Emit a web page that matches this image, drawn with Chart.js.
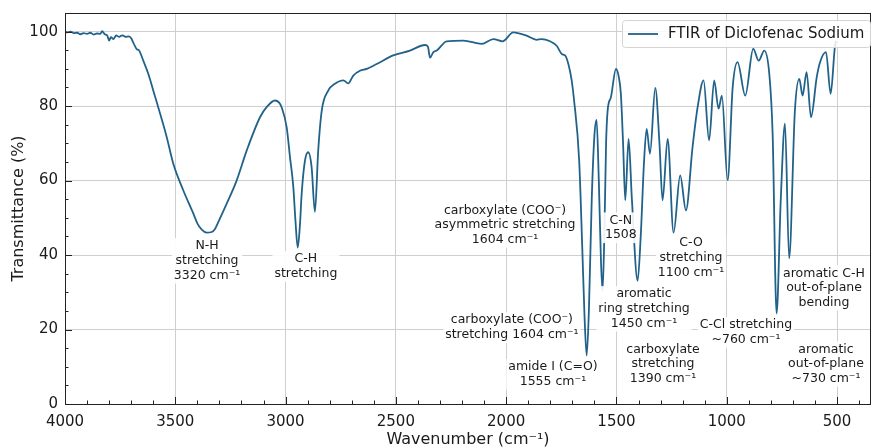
<!DOCTYPE html>
<html>
<head>
<meta charset="utf-8">
<script src="https://cdn.jsdelivr.net/npm/chart.js@4.4.1/dist/chart.umd.min.js"></script>
<style>
  html, body { margin: 0; padding: 0; background: #fff; }
</style>
</head>
<body>
<canvas id="ftirChart" width="872" height="448"></canvas>
<script>
// spectrum, high -> low wavenumber
const wavenumbers = [
  4000, 3990, 3975, 3960, 3945, 3930, 3915, 3900, 3885, 3870, 3855, 3840, 3832, 3820, 3808, 3800,
  3792, 3780, 3768, 3755, 3740, 3725, 3712, 3700, 3690, 3675, 3665, 3645, 3622, 3600, 3569, 3539,
  3509, 3464, 3418, 3400, 3380, 3358, 3335, 3320, 3300, 3267, 3222, 3176, 3116, 3086, 3048, 3030,
  3018, 2995, 2980, 2965, 2955, 2945, 2935, 2927, 2912, 2897, 2882, 2867, 2852, 2836, 2806, 2776,
  2738, 2716, 2693, 2663, 2632, 2587, 2512, 2436, 2368, 2355, 2345, 2330, 2315, 2270, 2194, 2111,
  2058, 2016, 1968, 1907, 1862, 1840, 1801, 1771, 1748, 1733, 1718, 1703, 1692, 1669, 1655, 1645,
  1635, 1625, 1612, 1600, 1590, 1580, 1570, 1563, 1555, 1547, 1540, 1525, 1502, 1490, 1480, 1470,
  1460, 1445, 1430, 1404, 1390, 1375, 1363, 1348, 1324, 1305, 1291, 1268, 1241, 1211, 1185, 1155,
  1132, 1105, 1080, 1057, 1037, 1022, 996, 973, 951, 916, 880, 855, 830, 807, 792, 774,
  755, 736, 717, 691, 671, 656, 638, 618, 592, 577, 550, 529, 510, 505
];
const transmittance = [
  100.0, 99.8, 100.0, 99.6, 99.7, 99.3, 99.6, 99.4, 99.7, 99.2, 99.5, 99.4, 100.1, 99.3, 98.9, 97.6,
  98.5, 98.0, 99.0, 98.6, 99.0, 98.6, 98.7, 98.2, 97.0, 95.3, 95.0, 92.2, 88.6, 84.2, 78.0, 71.7,
  64.5, 57.4, 51.1, 48.5, 46.8, 46.0, 46.2, 47.0, 49.5, 53.8, 60.0, 68.1, 77.0, 79.7, 81.5, 81.0,
  79.7, 74.3, 66.3, 58.3, 49.0, 42.0, 48.0, 56.5, 65.4, 67.6, 63.6, 51.6, 68.1, 78.8, 84.2, 86.0,
  86.9, 86.1, 88.2, 89.5, 90.0, 91.3, 93.6, 94.9, 96.4, 96.0, 93.0, 94.5, 94.9, 97.4, 97.6, 96.7,
  98.0, 97.4, 99.8, 98.9, 97.8, 98.0, 97.4, 96.2, 94.0, 93.6, 91.3, 86.9, 81.5, 65.4, 42.0, 24.0,
  13.0, 25.0, 55.0, 72.0, 76.3, 60.0, 38.0, 30.4, 45.0, 70.0, 78.8, 82.4, 90.0, 88.0, 83.3, 70.0,
  54.7, 71.2, 55.0, 33.1, 45.0, 65.0, 73.9, 67.2, 84.9, 70.0, 54.7, 71.2, 46.0, 61.4, 52.0, 69.0,
  79.7, 86.9, 70.8, 86.9, 79.3, 82.8, 60.1, 85.1, 91.8, 82.8, 95.4, 92.2, 94.9, 88.6, 72.6, 24.3,
  55.0, 75.3, 39.1, 78.8, 87.3, 82.8, 89.1, 77.0, 87.8, 91.8, 94.5, 83.3, 95.8, 97.5
];
const xTicks = [4000, 3500, 3000, 2500, 2000, 1500, 1000, 500];
const yTicks = [0, 20, 40, 60, 80, 100];
const seriesLabel = 'FTIR of Diclofenac Sodium';

// band labels: anchor (wavenumber, transmittance of first line)
const bandLabels = [
  { wn: 3356, t: 42.4, lines: ['N-H', 'stretching', '3320 cm⁻¹'] },
  { wn: 2908, t: 38.9, lines: ['C-H', 'stretching'] },
  { wn: 2005, t: 52.0, lines: ['carboxylate (COO⁻)', 'asymmetric stretching', '1604 cm⁻¹'] },
  { wn: 1480, t: 49.3, lines: ['C-N', '1508'] },
  { wn: 1162, t: 43.2, lines: ['C-O', 'stretching', '1100 cm⁻¹'] },
  { wn: 1375, t: 29.5, lines: ['aromatic', 'ring stretching', '1450 cm⁻¹'] },
  { wn: 1974, t: 22.5, lines: ['carboxylate (COO⁻)', 'stretching 1604 cm⁻¹'] },
  { wn: 1788, t: 9.9, lines: ['amide I (C=O)', '1555 cm⁻¹'] },
  { wn: 1289, t: 14.7, lines: ['carboxylate', 'stretching', '1390 cm⁻¹'] },
  { wn: 913, t: 21.2, lines: ['C-Cl stretching', '~760 cm⁻¹'] },
  { wn: 559, t: 35.1, lines: ['aromatic C-H', 'out-of-plane', 'bending'] },
  { wn: 550, t: 14.7, lines: ['aromatic', 'out-of-plane', '~730 cm⁻¹'] }
];

const lineColor = '#21628a';
const fontFamily = '"DejaVu Sans", "Liberation Sans", sans-serif';

const points = wavenumbers.map(function (w, i) { return { x: w, y: transmittance[i] }; });

const decorPlugin = {
  id: 'decor',
  afterDatasetsDraw: function (chart) {
    const c = chart.ctx;
    const xs = chart.scales.x;
    const ys = chart.scales.y;
    const area = chart.chartArea;

    // band labels with white boxes
    c.save();
    c.font = '12.5px ' + fontFamily;
    c.textAlign = 'center';
    c.textBaseline = 'middle';
    const lh = 14.7;
    bandLabels.forEach(function (lab) {
      const cx = xs.getPixelForValue(lab.wn);
      const cy = ys.getPixelForValue(lab.t);
      let w = 0;
      lab.lines.forEach(function (s) { w = Math.max(w, c.measureText(s).width); });
      c.fillStyle = 'rgba(255,255,255,0.9)';
      c.fillRect(cx - w / 2 - 2, cy - 8, w + 4, lh * (lab.lines.length - 1) + 16);
      c.fillStyle = '#1a1a1a';
      lab.lines.forEach(function (s, i) { c.fillText(s, cx, cy + i * lh); });
    });
    c.restore();

    // inward ticks
    c.save();
    c.strokeStyle = '#222';
    c.lineWidth = 1;
    c.beginPath();
    for (let v = 400; v <= 4000; v += 100) {
      const px = Math.round(xs.getPixelForValue(v)) + 0.5;
      if (px < area.left || px > area.right) continue;
      const len = v % 500 === 0 ? 7 : 3.5;
      c.moveTo(px, area.bottom);
      c.lineTo(px, area.bottom - len);
    }
    for (let v = 0; v <= 105; v += 5) {
      const py = Math.round(ys.getPixelForValue(v)) + 0.5;
      const len = v % 20 === 0 ? 7 : 3.5;
      c.moveTo(area.left, py);
      c.lineTo(area.left + len, py);
    }
    c.stroke();

    // frame
    c.strokeStyle = '#222';
    c.lineWidth = 1;
    c.strokeRect(area.left + 0.5, area.top + 0.5, area.right - area.left - 1, area.bottom - area.top);
    c.restore();

    // legend
    c.save();
    const lx = 622, ly = 20, lw = 248, lhh = 27;
    c.beginPath();
    c.roundRect(lx + 0.5, ly + 0.5, lw, lhh, 3);
    c.fillStyle = 'rgba(255,255,255,0.85)';
    c.fill();
    c.strokeStyle = '#d4d4d4';
    c.lineWidth = 1;
    c.stroke();
    c.beginPath();
    c.moveTo(628, ly + 14);
    c.lineTo(658, ly + 14);
    c.strokeStyle = lineColor;
    c.lineWidth = 1.8;
    c.stroke();
    c.font = '15px ' + fontFamily;
    c.fillStyle = '#1a1a1a';
    c.textBaseline = 'middle';
    c.textAlign = 'left';
    c.fillText(seriesLabel, 668, ly + 14);
    c.restore();
  }
};

const ftirChart = new Chart(document.getElementById('ftirChart'), {
  type: 'line',
  data: {
    datasets: [
      {
        label: seriesLabel,
        data: points,
        borderColor: lineColor,
        borderWidth: 1.8,
        pointRadius: 0,
        fill: false,
        cubicInterpolationMode: 'monotone'
      }
    ]
  },
  options: {
    responsive: false,
    animation: false,
    layout: { padding: { left: 0, right: 1, top: 13, bottom: 0 } },
    scales: {
      x: {
        type: 'linear',
        reverse: true,
        min: 346,
        max: 4000,
        afterBuildTicks: function (scale) { scale.ticks = xTicks.map(function (v) { return { value: v }; }); },
        afterFit: function (scale) { scale.height = 44; scale.paddingLeft = 0; scale.paddingRight = 0; },
        grid: { color: '#cfcfcf', lineWidth: 1, drawTicks: false },
        border: { display: false },
        ticks: {
          padding: 9, color: '#1a1a1a', font: { family: fontFamily, size: 15 }, maxRotation: 0, autoSkip: false,
          callback: function (v) { return String(v); }
        },
        title: { display: true, text: 'Wavenumber (cm⁻¹)', color: '#1a1a1a', font: { family: fontFamily, size: 16 }, padding: { top: 0, bottom: -1 } }
      },
      y: {
        min: 0,
        max: 105,
        afterBuildTicks: function (scale) { scale.ticks = yTicks.map(function (v) { return { value: v }; }); },
        afterFit: function (scale) { scale.width = 65; scale.paddingTop = 0; scale.paddingBottom = 0; },
        grid: { color: '#cfcfcf', lineWidth: 1, drawTicks: false },
        border: { display: false },
        ticks: {
          padding: 7, color: '#1a1a1a', font: { family: fontFamily, size: 15 },
          callback: function (v) { return String(v); }
        },
        title: { display: true, text: 'Transmittance (%)', color: '#1a1a1a', font: { family: fontFamily, size: 16 }, padding: { top: 9 } }
      }
    },
    plugins: {
      legend: { display: false },
      tooltip: { enabled: false }
    }
  },
  plugins: [decorPlugin]
});
</script>
</body>
</html>
